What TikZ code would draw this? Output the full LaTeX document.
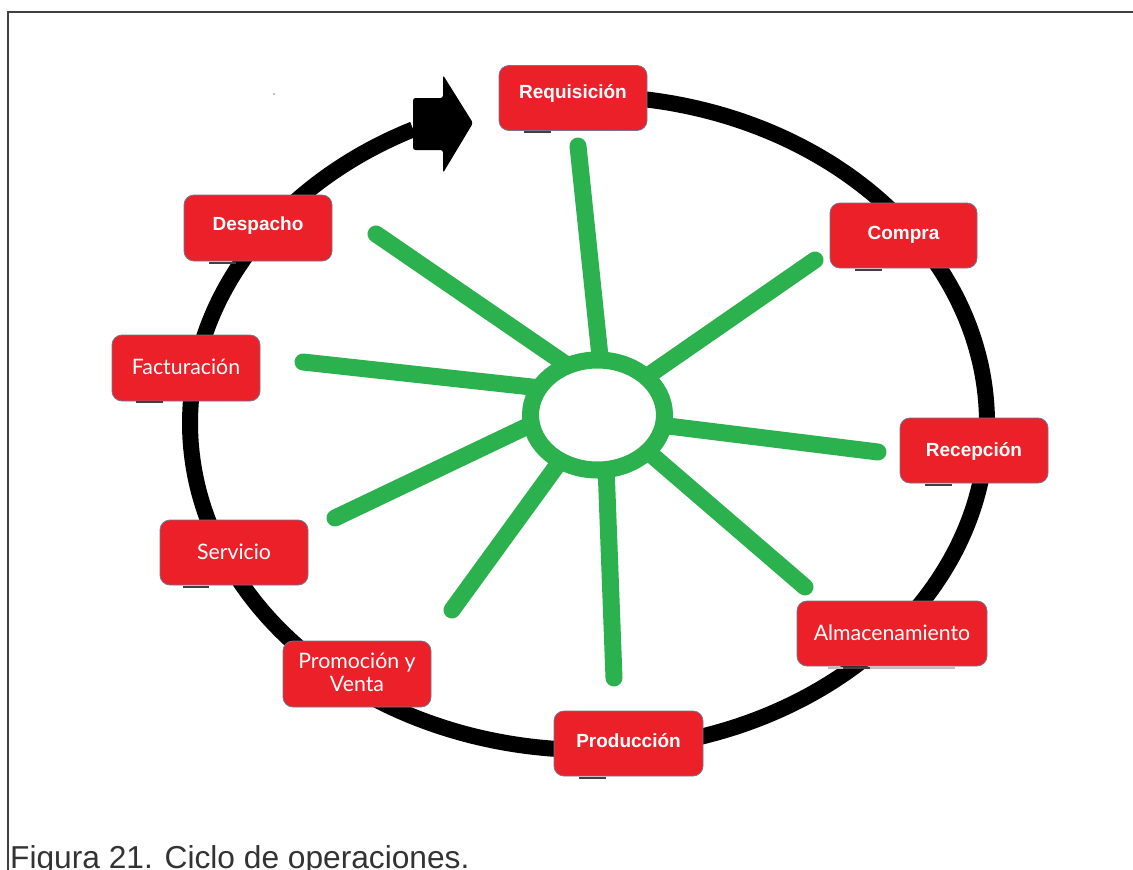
\documentclass[tikz,border=0pt]{standalone}
\usepackage{fontspec}
\setmainfont{Liberation Sans}
\newfontfamily\gillfont{Lato}
\usetikzlibrary{shapes.geometric}
\definecolor{boxred}{HTML}{EB2029}
\definecolor{boxedge}{HTML}{72778F}
\definecolor{ringgreen}{HTML}{2BB14D}
\definecolor{framegray}{HTML}{404040}
\definecolor{capgray}{HTML}{333333}
\newcommand\boxtxt[2]{\raisebox{#1pt}[0pt][0pt]{#2}}
\pgfdeclarelayer{bg}
\pgfsetlayers{bg,main}
\begin{document}
\begin{tikzpicture}[x=1pt,y=-1pt,
  rbox/.style={draw=boxedge, line width=0.8pt, fill=boxred, rounded corners=10pt,
    minimum width=148pt, minimum height=65pt, inner sep=0pt, text=white},
  boldlbl/.style={font=\fontsize{19}{21}\selectfont\bfseries},
  gilllbl/.style={font=\gillfont\fontsize{21.3}{23}\selectfont},
  spoke/.style={ringgreen, line width=17pt, line cap=round},
  cyc/.style={line width=16pt, black},
  tickline/.style={draw=framegray, line width=1.3pt}
]
\useasboundingbox (0,0) rectangle (1133,870);
% frame
\draw[framegray, line width=2pt] (8,870) -- (8,12) -- (1133,12);
\fill[gray] (274,94) circle (0.8pt);

% black cycle and arrow head
\draw[cyc] plot[domain=-243.9:95, samples=300, smooth]
  ({588.5+398.5*cos(\x)}, {423-327*sin(\x)});
\fill[black, rounded corners=2.5pt] (413,98) -- (443,98) -- (443,75) -- (473,123)
  -- (443,173) -- (443,150) -- (413,150) -- cycle;

% hub and spokes
\node[ellipse, draw=ringgreen, fill=white, line width=17pt, minimum width=134pt,
  minimum height=110pt, inner sep=0pt, outer sep=0pt] (hub) at (597.5,415) {};
\coordinate (s1) at (578,146);
\coordinate (s2) at (815,260);
\coordinate (s3) at (878,452);
\coordinate (s4) at (805,587);
\coordinate (s5) at (614,678);
\coordinate (s6) at (452,610);
\coordinate (s7) at (335,518);
\coordinate (s8) at (303,362);
\coordinate (s9) at (376,234);
\begin{pgfonlayer}{bg}
\foreach \a/\s in {87.4/s1,38.3/s2,-9.8/s3,-36.9/s4,-81.2/s5,-129.1/s6,-172.4/s7,155.3/s8,121.5/s9}
  \draw[spoke] (hub.\a) -- (\s);
\end{pgfonlayer}

% boxes
\node[rbox, boldlbl] (req) at (573,98) {\boxtxt{0}{Requisición}};
\node[rbox, boldlbl, minimum width=147pt] (com) at (903.5,235.5) {\boxtxt{-3.5}{Compra}};
\node[rbox, boldlbl] (rec) at (974,450.5) {\boxtxt{-6}{Recepción}};
\node[rbox, gilllbl, minimum width=190pt] (alm) at (892,633.5) {\boxtxt{-6.5}{Almacenamiento}};
\node[rbox, boldlbl, minimum width=149pt] (pro) at (628.5,743.5) {\boxtxt{-3.5}{Producción}};
\node[rbox, gilllbl, minimum height=66pt] (pyv) at (357,674)
  {\makebox[0pt][c]{\boxtxt{6}{Promoción y}}\makebox[0pt][c]{\boxtxt{-17}{Venta}}};
\node[rbox, gilllbl] (ser) at (234,552.5) {\boxtxt{-7}{Servicio}};
\node[rbox, gilllbl, minimum height=66pt] (fac) at (186,368) {\boxtxt{-6}{Facturación}};
\node[rbox, boldlbl, minimum height=66pt] (des) at (258,228) {\boxtxt{-2.5}{Despacho}};

% small marks under boxes
\draw[tickline] (524,132) -- (551,132);
\draw[tickline] (855,270) -- (882,270);
\draw[tickline] (925,485) -- (952,485);
\draw[draw=gray!50, line width=1.3pt] (828,668) -- (955,668);
\draw[tickline] (843,668) -- (870,668);
\draw[tickline] (579,778) -- (606,778);
\draw[tickline] (183,587) -- (209,587);
\draw[tickline] (136,402) -- (163,402);
\draw[tickline] (209,263) -- (236,263);

% caption
\node[anchor=base west, inner sep=0pt, text=capgray, font=\fontsize{31.7}{34}\selectfont]
  (cap) at (10,868) {Figura 21. Ciclo de operaciones.};
\end{tikzpicture}
\end{document}
